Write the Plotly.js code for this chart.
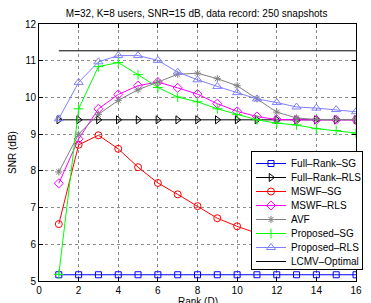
<!DOCTYPE html>
<html><head><meta charset="utf-8">
<script src="https://cdn.plot.ly/plotly-3.0.1.min.js"></script>
<style>html,body{margin:0;padding:0;background:#fff;}#chart{width:371px;height:303px;}</style>
</head><body><div id="chart"></div>
<script>
var rank = [1,2,3,4,5,6,7,8,9,10,11,12,13,14,15,16];
var fullRankSG  = [5.17,5.17,5.17,5.17,5.17,5.17,5.17,5.17,5.17,5.17,5.17,5.17,5.17,5.17,5.17,5.17];
var fullRankRLS = [9.39,9.39,9.39,9.39,9.39,9.39,9.39,9.39,9.39,9.39,9.39,9.39,9.39,9.39,9.39,9.39];
var mswfSG  = [6.55,8.71,8.97,8.60,8.10,7.67,7.36,7.04,6.71,6.49,6.30,6.14,6.00,5.87,5.75,5.64];
var mswfRLS = [7.66,8.87,9.69,10.08,10.32,10.42,10.26,10.09,9.83,9.62,9.48,9.40,9.39,9.39,9.39,9.39];
var avf     = [7.97,9.00,9.54,9.92,10.21,10.42,10.63,10.66,10.51,10.32,9.96,9.60,9.44,9.40,9.40,9.40];
var propSG  = [5.18,9.69,10.84,10.95,10.62,10.27,10.01,9.88,9.69,9.53,9.39,9.30,9.25,9.15,9.10,9.03];
var propRLS = [9.42,10.41,10.97,11.14,11.14,11.01,10.69,10.48,10.30,10.13,9.96,9.86,9.74,9.71,9.67,9.61];
var lcmv    = [11.27,11.27,11.27,11.27,11.27,11.27,11.27,11.27,11.27,11.27,11.27,11.27,11.27,11.27,11.27,11.27];
var names = ['Full–Rank–SG','Full–Rank–RLS','MSWF–SG','MSWF–RLS','AVF','Proposed–SG','Proposed–RLS','LCMV–Optimal'];
var xTicks = [0,2,4,6,8,10,12,14,16];
var yTicks = [5,6,7,8,9,10,11,12];
var xLabel = 'Rank (D)';
var yLabel = 'SNR (dB)';
var titleText = 'M=32, K=8 users, SNR=15 dB, data record: 250 snapshots';

function tr(y, name, color, symbol, size, mode){
  return {x: rank, y: y, name: name, type:'scatter', mode: mode || 'lines+markers',
    line:{color:color, width:1},
    marker:{symbol:symbol, size:size, color:color, line:{color:color, width:1}}};
}
var data = [
  tr(fullRankSG, names[0], '#0000ff', 'square-open', 6),
  tr(fullRankRLS, names[1], '#000000', 'triangle-right-open', 7),
  tr(mswfSG, names[2], '#ff0000', 'circle-open', 7),
  tr(mswfRLS, names[3], '#ff00ff', 'diamond-open', 7),
  tr(avf, names[4], '#808080', 'asterisk-open', 6),
  tr(propSG, names[5], '#00ff00', 'cross-thin-open', 7),
  tr(propRLS, names[6], '#8080ff', 'triangle-up-open', 8),
  tr(lcmv, names[7], '#000000', 'circle', 1, 'lines')
];
var fnt = {family:'"Liberation Sans", Arial, sans-serif', size:10, color:'#000'};
var layout = {
  width:371, height:303,
  margin:{l:39, r:7, t:24, b:22},
  paper_bgcolor:'#fff', plot_bgcolor:'#fff',
  font: fnt,
  title:{text:titleText, font:fnt, x:0.53, xanchor:'center', y:0.955, yanchor:'middle'},
  xaxis:{range:[0,16], tickvals:xTicks, ticktext:xTicks.map(String), showgrid:true, gridcolor:'#8c8c8c', griddash:'dot', gridwidth:1,
    zeroline:false, showline:true, linecolor:'#000', linewidth:1, mirror:'ticks', ticks:'inside', ticklen:4, tickcolor:'#000',
    tickfont:fnt, automargin:false},
  yaxis:{range:[5,12], tickvals:yTicks, ticktext:yTicks.map(String), showgrid:true, gridcolor:'#8c8c8c', griddash:'dot', gridwidth:1,
    zeroline:false, showline:true, linecolor:'#000', linewidth:1, mirror:'ticks', ticks:'inside', ticklen:4, tickcolor:'#000',
    tickfont:fnt, automargin:false, title:{text:yLabel, font:fnt, standoff:6}},
  annotations:[{text:xLabel, xref:'paper', yref:'paper', x:0.5, y:0, xanchor:'center', yanchor:'top', yshift:-14,
    showarrow:false, font:fnt, borderpad:0}],
  showlegend:true,
  legend:{x:0.653, xanchor:'left', y:0.0623, yanchor:'bottom', bgcolor:'#fff', bordercolor:'#000', borderwidth:1,
    font:fnt, tracegroupgap:0, itemwidth:30}
};
var LEG_LEFT = 251, LEG_TOP = 151, SP = 14;
var baseY = null;
function fixLegend(gd){
  var leg = gd.querySelector('.legend');
  if(!leg) return;
  var items = leg.querySelectorAll('.traces');
  if(items.length < 2) return;
  function ty(el){ var m = /translate\(\s*[-\d.]+\s*[, ]\s*([-\d.]+)/.exec(el.getAttribute('transform')||''); return m ? parseFloat(m[1]) : 0; }
  if(baseY === null) baseY = ty(items[0]) - 3;
  for(var i=0;i<items.length;i++){ items[i].setAttribute('transform','translate(0,'+(baseY + i*SP)+')'); }
  var h = baseY + (items.length-1)*SP + 7;
  var bg = leg.querySelector('rect.bg');
  if(bg){ bg.setAttribute('height', h); bg.setAttribute('width', 111); }
  leg.setAttribute('transform','translate('+LEG_LEFT+','+LEG_TOP+')');
}
Plotly.newPlot('chart', data, layout, {staticPlot:true, displayModeBar:false}).then(function(gd){
  fixLegend(gd);
  gd.on('plotly_afterplot', function(){ fixLegend(gd); });
  setTimeout(function(){ fixLegend(gd); }, 50);
});
</script></body></html>
